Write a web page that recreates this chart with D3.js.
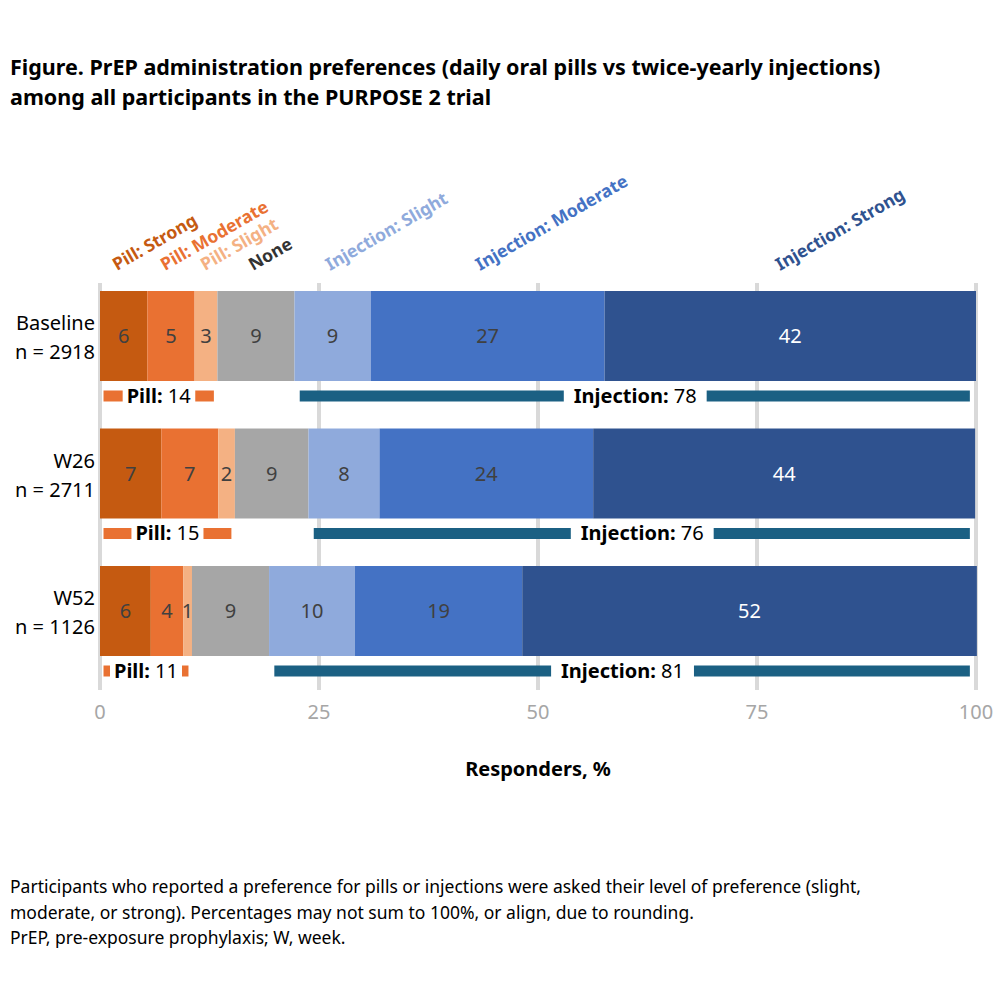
<!DOCTYPE html>
<html><head><meta charset="utf-8">
<script src="https://cdn.jsdelivr.net/npm/d3@7"></script>
<style>body{margin:0;background:#fff}text{font-family:"Noto Sans",sans-serif}</style>
</head><body><svg id="c" width="1000" height="1000"></svg>
<script>
const timepoints=["Baseline","W26","W52"];
const nLabels=["n = 2918","n = 2711","n = 1126"];
const categories=["Pill: Strong","Pill: Moderate","Pill: Slight","None","Injection: Slight","Injection: Moderate","Injection: Strong"];
const baselineVals=[5.4,5.4,2.6,8.8,8.7,26.7,42.4];
const w26Vals=[7.0,6.5,1.9,8.4,8.1,24.4,43.6];
const w52Vals=[5.8,3.7,1.0,8.8,9.8,19.1,51.9];
const baselineLabels=[6,5,3,9,9,27,42];
const w26Labels=[7,7,2,9,8,24,44];
const w52Labels=[6,4,1,9,10,19,52];
const pillTotals=[14,15,11];
const injTotals=[78,76,81];
const ticks=[0,25,50,75,100];
const colors=["#C55A11","#E97132","#F4B183","#A6A6A6","#8FAADC","#4472C4","#2F528F"];
const catText=["#C55A11","#E97132","#F4B183","#333333","#8FAADC","#4472C4","#2F528F"];
const vals=[baselineVals,w26Vals,w52Vals], labs=[baselineLabels,w26Labels,w52Labels];

const svg=d3.select("#c");
const x=d3.scaleLinear().domain([0,100]).range([100,976]);
const y=d3.scaleBand().domain(timepoints).range([291,656]).paddingInner(0.3455);

svg.append("text").attr("x",10).attr("y",75).attr("font-size",21.5).attr("font-weight","bold").text("Figure. PrEP administration preferences (daily oral pills vs twice-yearly injections)");
svg.append("text").attr("x",10).attr("y",105).attr("font-size",21.5).attr("font-weight","bold").text("among all participants in the PURPOSE 2 trial");

svg.selectAll(".g").data(ticks).join("line").attr("x1",d=>x(d)).attr("x2",d=>x(d)).attr("y1",283).attr("y2",690).attr("stroke","#d9d9d9").attr("stroke-width",4);
svg.selectAll(".t").data(ticks).join("text").attr("x",d=>x(d)).attr("y",719).attr("text-anchor","middle").attr("font-size",20).attr("fill","#a6a6a6").text(d=>d);
svg.append("text").attr("x",538).attr("y",776).attr("text-anchor","middle").attr("font-size",20).attr("font-weight","bold").text("Responders, %");

timepoints.forEach((t,i)=>{
  let cum=0; const y0=y(t), h=y.bandwidth();
  vals[i].forEach((v,j)=>{
    svg.append("rect").attr("x",x(cum)).attr("y",y0).attr("width",x(cum+v)-x(cum)).attr("height",h).attr("fill",colors[j]);
    svg.append("text").attr("x",(x(cum)+x(cum+v))/2).attr("y",y0+h/2+7).attr("text-anchor","middle").attr("font-size",20).attr("fill",j==6?"#fff":"#404040").text(labs[i][j]);
    cum+=v;
  });
  svg.append("text").attr("x",95).attr("y",y0+h/2-6).attr("text-anchor","end").attr("font-size",20).text(t);
  svg.append("text").attr("x",95).attr("y",y0+h/2+23).attr("text-anchor","end").attr("font-size",20).text(nLabels[i]);
  const ly=y0+h+15;
  const pillEnd=vals[i][0]+vals[i][1]+vals[i][2];
  const injStart=pillEnd+vals[i][3];
  const pt=svg.append("text").attr("x",x(pillEnd/2)).attr("y",ly+7).attr("text-anchor","middle").attr("font-size",20);
  pt.append("tspan").attr("font-weight","bold").text("Pill: "); pt.append("tspan").text(pillTotals[i]);
  const pb=pt.node().getBBox();
  svg.append("line").attr("x1",x(0.4)).attr("x2",pb.x-4).attr("y1",ly).attr("y2",ly).attr("stroke","#E97132").attr("stroke-width",11);
  svg.append("line").attr("x1",pb.x+pb.width+4).attr("x2",x(pillEnd-0.4)).attr("y1",ly).attr("y2",ly).attr("stroke","#E97132").attr("stroke-width",11);
  const it=svg.append("text").attr("x",x((injStart+100)/2)).attr("y",ly+7).attr("text-anchor","middle").attr("font-size",20);
  it.append("tspan").attr("font-weight","bold").text("Injection: "); it.append("tspan").text(injTotals[i]);
  const ib=it.node().getBBox();
  svg.append("line").attr("x1",x(injStart+0.6)).attr("x2",ib.x-10).attr("y1",ly).attr("y2",ly).attr("stroke","#1B6083").attr("stroke-width",11);
  svg.append("line").attr("x1",ib.x+ib.width+10).attr("x2",x(99.3)).attr("y1",ly).attr("y2",ly).attr("stroke","#1B6083").attr("stroke-width",11);
});

const catX=[117,165,205,253,330,480,780];
categories.forEach((c,j)=>{
  svg.append("text").attr("transform",`translate(${catX[j]},271) rotate(-30)`).attr("font-size",17.5).attr("font-weight","bold").attr("fill",catText[j]).text(c);
});

const foot=["Participants who reported a preference for pills or injections were asked their level of preference (slight,","moderate, or strong). Percentages may not sum to 100%, or align, due to rounding.","PrEP, pre-exposure prophylaxis; W, week."];
foot.forEach((f,i)=>svg.append("text").attr("x",10).attr("y",893+i*25.5).attr("font-size",17.5).text(f));
</script></body></html>
